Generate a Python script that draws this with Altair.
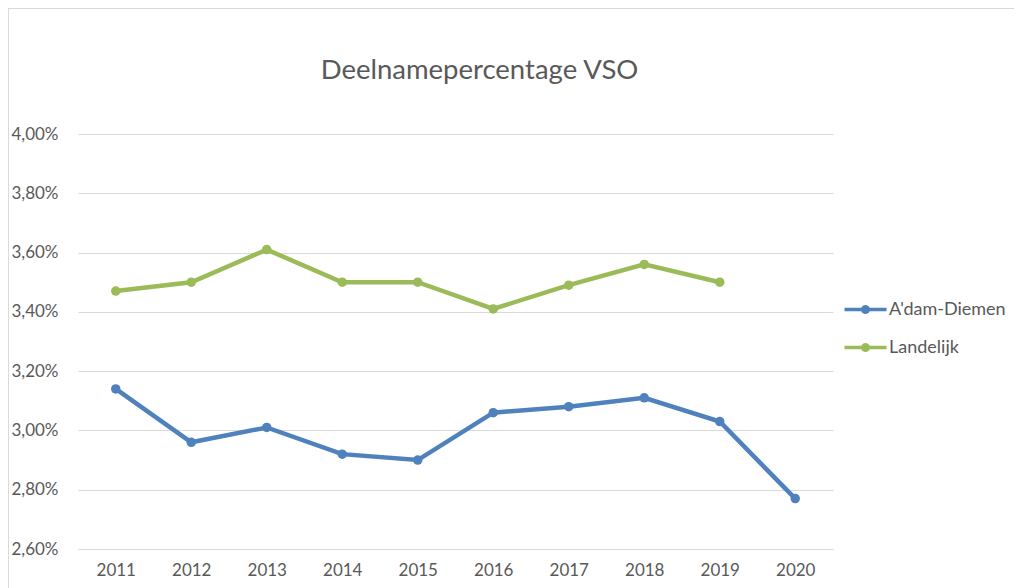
import altair as alt
import pandas as pd

years = ["2011", "2012", "2013", "2014", "2015", "2016", "2017", "2018", "2019", "2020"]
adam_diemen = [3.14, 2.96, 3.01, 2.92, 2.90, 3.06, 3.08, 3.11, 3.03, 2.77]
landelijk = [3.47, 3.50, 3.61, 3.50, 3.50, 3.41, 3.49, 3.56, 3.50, None]
series_names = ["A'dam-Diemen", "Landelijk"]
series_colors = ["#4F81BD", "#9BBB59"]
y_ticks = [2.60, 2.80, 3.00, 3.20, 3.40, 3.60, 3.80, 4.00]

rows = []
for name, vals in zip(series_names, [adam_diemen, landelijk]):
    for yr, v in zip(years, vals):
        if v is not None:
            rows.append({"jaar": yr, "serie": name, "pct": v / 100})
df = pd.DataFrame(rows)

FONT = "Lato"
GREY = "#595959"

legend_path = ("M-2,-0.17 L-0.4,-0.17 A0.435,0.435 0 0 1 0.4,-0.17 L2,-0.17 "
               "L2,0.17 L0.4,0.17 A0.435,0.435 0 0 1 -0.4,0.17 L-2,0.17 Z")

legend = alt.Legend(title=None, orient="none", legendX=777, legendY=165,
                    symbolType=legend_path, symbolSize=441,
                    symbolStrokeWidth=0, labelOffset=13,
                    labelFont=FONT, labelFontSize=18, labelColor=GREY,
                    rowPadding=18)

x_enc = alt.X("jaar:O", sort=years, title=None,
              scale=alt.Scale(type="point", padding=0.5),
              axis=alt.Axis(labelAngle=0, ticks=False, domain=True, domainColor="#D9D9D9",
                            labelFont=FONT, labelFontSize=17, labelColor=GREY,
                            labelPadding=13, grid=False))
y_enc = alt.Y("pct:Q", title=None,
              scale=alt.Scale(domain=[0.026, 0.040], nice=False, zero=False),
              axis=alt.Axis(values=[t / 100 for t in y_ticks],
                            labelExpr="replace(format(datum.value, '.2%'), '.', ',')",
                            ticks=False, domain=False, gridColor="#D9D9D9", gridWidth=1,
                            labelFont=FONT, labelFontSize=17, labelColor=GREY,
                            labelPadding=20))
color_enc = alt.Color("serie:N", scale=alt.Scale(domain=series_names, range=series_colors),
                      sort=series_names, legend=legend)

base = alt.Chart(df)
lines = base.mark_line(strokeWidth=4.5).encode(x=x_enc, y=y_enc, color=color_enc)
points = base.mark_point(filled=True, size=90, opacity=1).encode(x=x_enc, y=y_enc, color=color_enc)

frame_v = alt.Chart(df).mark_rule(color="#D9D9D9", strokeWidth=1).encode(
    x=alt.value(-70), y=alt.value(-126), y2=alt.value(470))
frame_h = alt.Chart(df).mark_rule(color="#D9D9D9", strokeWidth=1).encode(
    x=alt.value(-70), x2=alt.value(960), y=alt.value(-125.5))

chart = alt.layer(frame_v, frame_h, lines, points).properties(
    width=755, height=415,
    autosize=alt.AutoSizeParams(type="none"),
    padding={"left": 70, "top": 126, "right": 181, "bottom": 40},
    title=alt.TitleParams("Deelnamepercentage VSO", font=FONT, fontSize=27.5,
                          fontWeight="normal", color=GREY, anchor="middle",
                          baseline="alphabetic", frame="group", offset=-99, dx=24),
).configure_view(stroke=None)

chart.save("out.html", embed_options={"renderer": "svg", "actions": False})
